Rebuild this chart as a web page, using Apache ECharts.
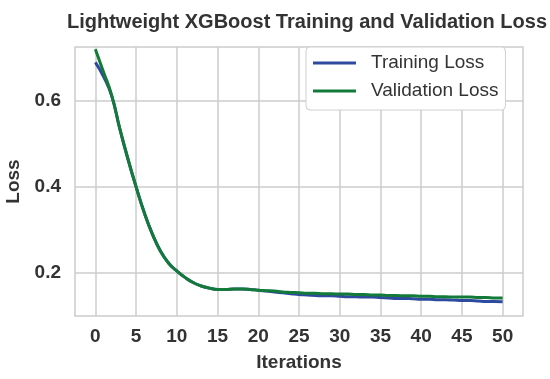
<!DOCTYPE html>
<html>
<head>
<meta charset="utf-8">
<script src="https://cdn.jsdelivr.net/npm/echarts@6/dist/echarts.min.js"></script>
<style>html,body{margin:0;padding:0;background:#fff;}#c{width:550px;height:379px;}</style>
</head>
<body>
<div id="c"></div>
<script>
const iterations = Array.from({length: 51}, (_, i) => i);
const trainingLoss = [0.690,0.657,0.612,0.535,0.465,0.400,0.340,0.290,0.250,0.222,0.204,0.189,0.177,0.169,0.164,0.161,0.161,0.162,0.162,0.161,0.159,0.157,0.155,0.153,0.151,0.149,0.148,0.147,0.146,0.146,0.145,0.144,0.144,0.143,0.143,0.142,0.141,0.140,0.140,0.139,0.138,0.138,0.137,0.137,0.136,0.135,0.135,0.134,0.133,0.133,0.132];
const validationLoss = [0.721,0.668,0.614,0.536,0.465,0.400,0.340,0.290,0.250,0.222,0.204,0.189,0.177,0.169,0.164,0.161,0.161,0.162,0.162,0.161,0.159,0.158,0.157,0.155,0.154,0.153,0.152,0.152,0.151,0.151,0.150,0.150,0.149,0.149,0.148,0.148,0.147,0.147,0.146,0.146,0.145,0.145,0.144,0.144,0.143,0.143,0.143,0.142,0.142,0.141,0.141];
const xTicks = [0,5,10,15,20,25,30,35,40,45,50];
const yTicks = [0.2,0.4,0.6];

const chart = echarts.init(document.getElementById('c'), null, {renderer: 'canvas'});
const txt = '#333333';
const font = 'Liberation Sans, Arial, sans-serif';
chart.setOption({
  animation: false,
  backgroundColor: '#ffffff',
  title: {
    text: 'Lightweight XGBoost Training and Validation Loss',
    left: 302, top: 7, textAlign: 'center',
    textStyle: {fontSize: 20, fontWeight: 'bold', color: txt, fontFamily: font}
  },
  grid: {left: 75, right: 27, top: 47, bottom: 63, outerBoundsMode: 'none', containLabel: false, show: true, borderColor: '#cccccc', borderWidth: 1.5, backgroundColor: '#ffffff'},
  legend: {
    orient: 'vertical', left: 306, top: 47,
    padding: [5, 7, 8, 7], itemGap: 6,
    backgroundColor: '#ffffff', borderColor: '#d0d0d0', borderWidth: 1, borderRadius: 4,
    itemWidth: 43, itemHeight: 3, icon: 'rect',
    textStyle: {fontSize: 19, color: txt, fontFamily: font, lineHeight: 22, padding: [0, 0, 0, 10]},
    data: ['Training Loss', 'Validation Loss']
  },
  xAxis: {
    type: 'value', min: -2.5, max: 52.5,
    name: 'Iterations', nameLocation: 'middle', nameGap: 37,
    nameTextStyle: {fontSize: 19, fontWeight: 'bold', color: txt, fontFamily: font},
    axisLine: {show: false},
    axisTick: {show: false, customValues: xTicks},
    axisLabel: {customValues: xTicks, fontSize: 19, fontWeight: 'bold', color: txt, fontFamily: font, margin: 11},
    splitLine: {show: true, lineStyle: {color: '#cccccc', width: 1.5}}
  },
  yAxis: {
    type: 'value', min: 0.099, max: 0.726,
    name: 'Loss', nameLocation: 'middle', nameGap: 51,
    nameTextStyle: {fontSize: 19, fontWeight: 'bold', color: txt, fontFamily: font},
    axisLine: {show: false},
    axisTick: {show: false, customValues: yTicks},
    axisLabel: {customValues: yTicks, fontSize: 19, fontWeight: 'bold', color: txt, fontFamily: font, margin: 14, formatter: v => v.toFixed(1)},
    splitLine: {show: true, lineStyle: {color: '#cccccc', width: 1.5}}
  },
  series: [
    {name: 'Training Loss', type: 'line', smooth: true, showSymbol: false, color: '#2e4a9e', lineStyle: {width: 3, color: '#2e4a9e'},
     data: iterations.map((x, i) => [x, trainingLoss[i]])},
    {name: 'Validation Loss', type: 'line', smooth: true, showSymbol: false, color: '#137a3a', lineStyle: {width: 3, color: '#137a3a'},
     data: iterations.map((x, i) => [x, validationLoss[i]])}
  ]
});
</script>
</body>
</html>
